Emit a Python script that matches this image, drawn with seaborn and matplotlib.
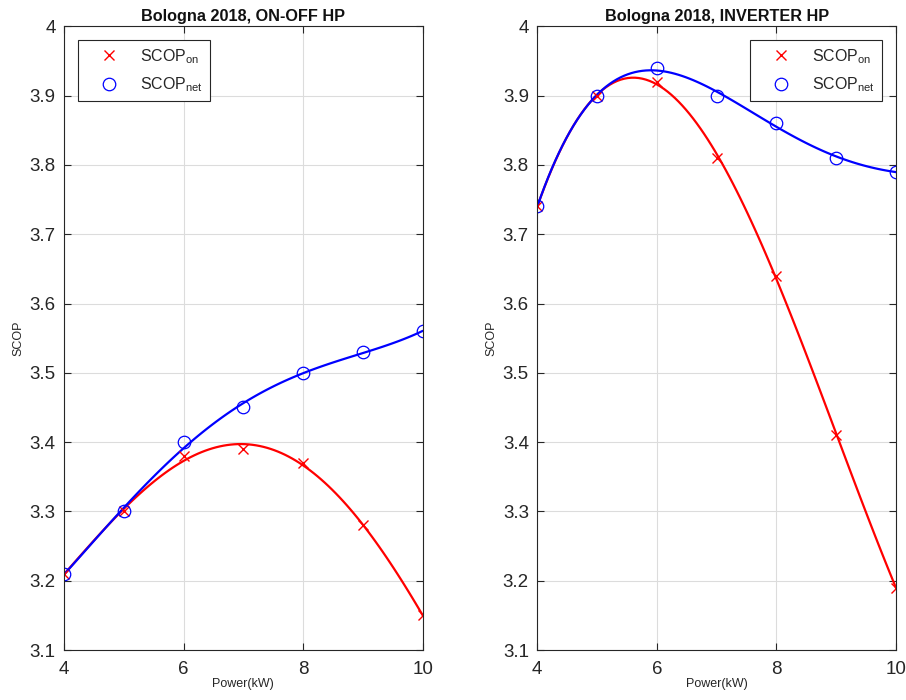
import numpy as np
import pandas as pd
import matplotlib
matplotlib.use("Agg")
import matplotlib.pyplot as plt
import seaborn as sns

power = [4, 5, 6, 7, 8, 9, 10]
onoff_scop_on = [3.21, 3.30, 3.38, 3.39, 3.37, 3.28, 3.15]
onoff_scop_net = [3.21, 3.30, 3.40, 3.45, 3.50, 3.53, 3.56]
inv_scop_on = [3.74, 3.90, 3.92, 3.81, 3.64, 3.41, 3.19]
inv_scop_net = [3.74, 3.90, 3.94, 3.90, 3.86, 3.81, 3.79]
titles = ["Bologna 2018, ON-OFF HP", "Bologna 2018, INVERTER HP"]
yticks = [3.1, 3.2, 3.3, 3.4, 3.5, 3.6, 3.7, 3.8, 3.9, 4.0]
ytick_labels = ["3.1", "3.2", "3.3", "3.4", "3.5", "3.6", "3.7", "3.8", "3.9", "4"]
xticks = [4, 6, 8, 10]

sns.set_theme(style="white")
plt.rcParams['font.family'] = ['Liberation Sans', 'DejaVu Sans']
plt.rcParams['mathtext.fontset'] = 'custom'
plt.rcParams['mathtext.rm'] = 'Liberation Sans'
plt.rcParams['mathtext.it'] = 'Liberation Sans'

fig = plt.figure(figsize=(9.06, 7.0), dpi=100)
axes = [fig.add_axes([0.0706, 0.0714, 0.396, 0.891]),
        fig.add_axes([0.593, 0.0714, 0.396, 0.891])]

datasets = [(onoff_scop_on, onoff_scop_net, "upper left"),
            (inv_scop_on, inv_scop_net, "upper right")]

for ax, title, (on, net, loc) in zip(axes, titles, datasets):
    df = pd.DataFrame({"power": power, "on": on, "net": net})
    sns.regplot(data=df, x="power", y="on", order=4, ci=None, scatter=False,
                truncate=True, ax=ax, line_kws=dict(color="#ff0000", lw=1.6))
    sns.regplot(data=df, x="power", y="net", order=4, ci=None, scatter=False,
                truncate=True, ax=ax, line_kws=dict(color="#0000ff", lw=1.6))
    ax.plot(df["power"], df["on"], ls="none", marker="x", ms=6.5, mew=1.0,
            color="#ff0000", label=r"SCOP$_{\mathrm{on}}$")
    ax.plot(df["power"], df["net"], ls="none", marker="o", ms=9, mew=0.9,
            mfc="none", mec="#0000ff", label=r"SCOP$_{\mathrm{net}}$")
    ax.set_xlim(4, 10)
    ax.set_ylim(3.1, 4.0)
    ax.set_xticks(xticks)
    ax.set_xticklabels([str(t) for t in xticks])
    ax.set_yticks(yticks)
    ax.set_yticklabels(ytick_labels)
    ax.tick_params(axis="both", which="both", direction="in", length=5,
                   width=0.8, color="#262626", labelsize=13.5, top=True,
                   right=True, bottom=True, left=True, pad=6,
                   labelcolor="#262626")
    ax.tick_params(axis="x", pad=8)
    ax.grid(True, color="#dcdcdc", lw=0.8)
    for s in ax.spines.values():
        s.set_visible(True)
        s.set_color("#262626")
        s.set_linewidth(0.8)
    ax.set_xlabel("Power(kW)", fontsize=9, color="#262626", labelpad=0)
    ax.set_ylabel("SCOP", fontsize=9, color="#262626", labelpad=4)
    ax.set_title(title, fontsize=11.7, fontweight="bold", color="#111111", pad=4)
    leg = ax.legend(loc=loc, fontsize=11.5, frameon=True, fancybox=False,
                    edgecolor="#262626", framealpha=1, borderpad=0.45,
                    handlelength=3.0, handletextpad=0.45, labelspacing=0.6,
                    borderaxespad=0.85)
    leg.get_frame().set_linewidth(0.8)

fig.savefig("out.png", dpi=100)
